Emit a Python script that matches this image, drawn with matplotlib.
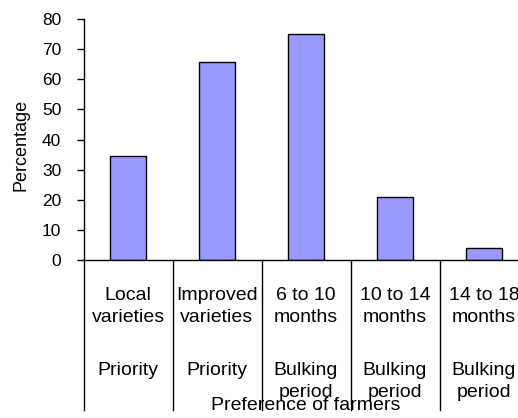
import matplotlib
matplotlib.use('Agg')
import matplotlib.pyplot as plt
import numpy as np

# ── data ───────────────────────────────────────────────────────────────────
top_labels = ['Local\nvarieties', 'Improved\nvarieties', '6 to 10\nmonths',
              '10 to 14\nmonths', '14 to 18\nmonths']
group_labels = ['Priority', 'Priority', 'Bulking\nperiod', 'Bulking\nperiod',
                'Bulking\nperiod']
values = [34.6, 65.6, 75.1, 20.8, 3.9]

plt.rcParams['font.family'] = ['Liberation Sans', 'DejaVu Sans']

W, H = 518, 418
fig = plt.figure(figsize=(W / 100, H / 100), dpi=100)

# axes in pixel coords (last category runs past the right edge, as in original)
x0, x1 = 83.5, 528.5
y_top, y_bot = 19.0, 260.0
ax = fig.add_axes([x0 / W, 1 - y_bot / H, (x1 - x0) / W, (y_bot - y_top) / H])

x = np.arange(len(values))
ax.bar(x, values, width=0.41, color='#9999FF', edgecolor='black', linewidth=1.0)

ax.set_xlim(-0.5, len(values) - 0.5)
ax.set_ylim(0, 80)
ax.set_yticks(range(0, 81, 10))
ax.tick_params(axis='y', direction='out', length=5, width=1, labelsize=12.5, pad=11)
ax.set_xticks([])
for s in ['top', 'right']:
    ax.spines[s].set_visible(False)
ax.spines['left'].set_linewidth(1.0)
ax.spines['bottom'].set_linewidth(1.0)

fig.text(21 / W, 1 - 145 / H, 'Percentage', rotation=90, ha='center',
         va='center', fontsize=13)

# multi-level category axis
trans = ax.get_xaxis_transform()
ax_h = y_bot - y_top
def ay(py):
    return -(py - y_bot) / ax_h

for b in np.arange(-0.5, len(values), 1.0):
    ax.plot([b, b], [0, ay(410)], color='black', lw=1.0, transform=trans,
            clip_on=False)

LAB_FS = 14
for i in x:
    for k, line in enumerate(top_labels[i].split('\n')):
        ax.text(i, ay(300 + 22 * k), line, transform=trans, ha='center',
                va='baseline', fontsize=LAB_FS, clip_on=False)
    for k, line in enumerate(group_labels[i].split('\n')):
        ax.text(i, ay(375 + 22 * k), line, transform=trans, ha='center',
                va='baseline', fontsize=LAB_FS, clip_on=False)
ax.text(0.5, ay(410), 'Preference of farmers', transform=ax.transAxes,
        ha='center', va='baseline', fontsize=LAB_FS)

fig.savefig('out.png', dpi=100)
